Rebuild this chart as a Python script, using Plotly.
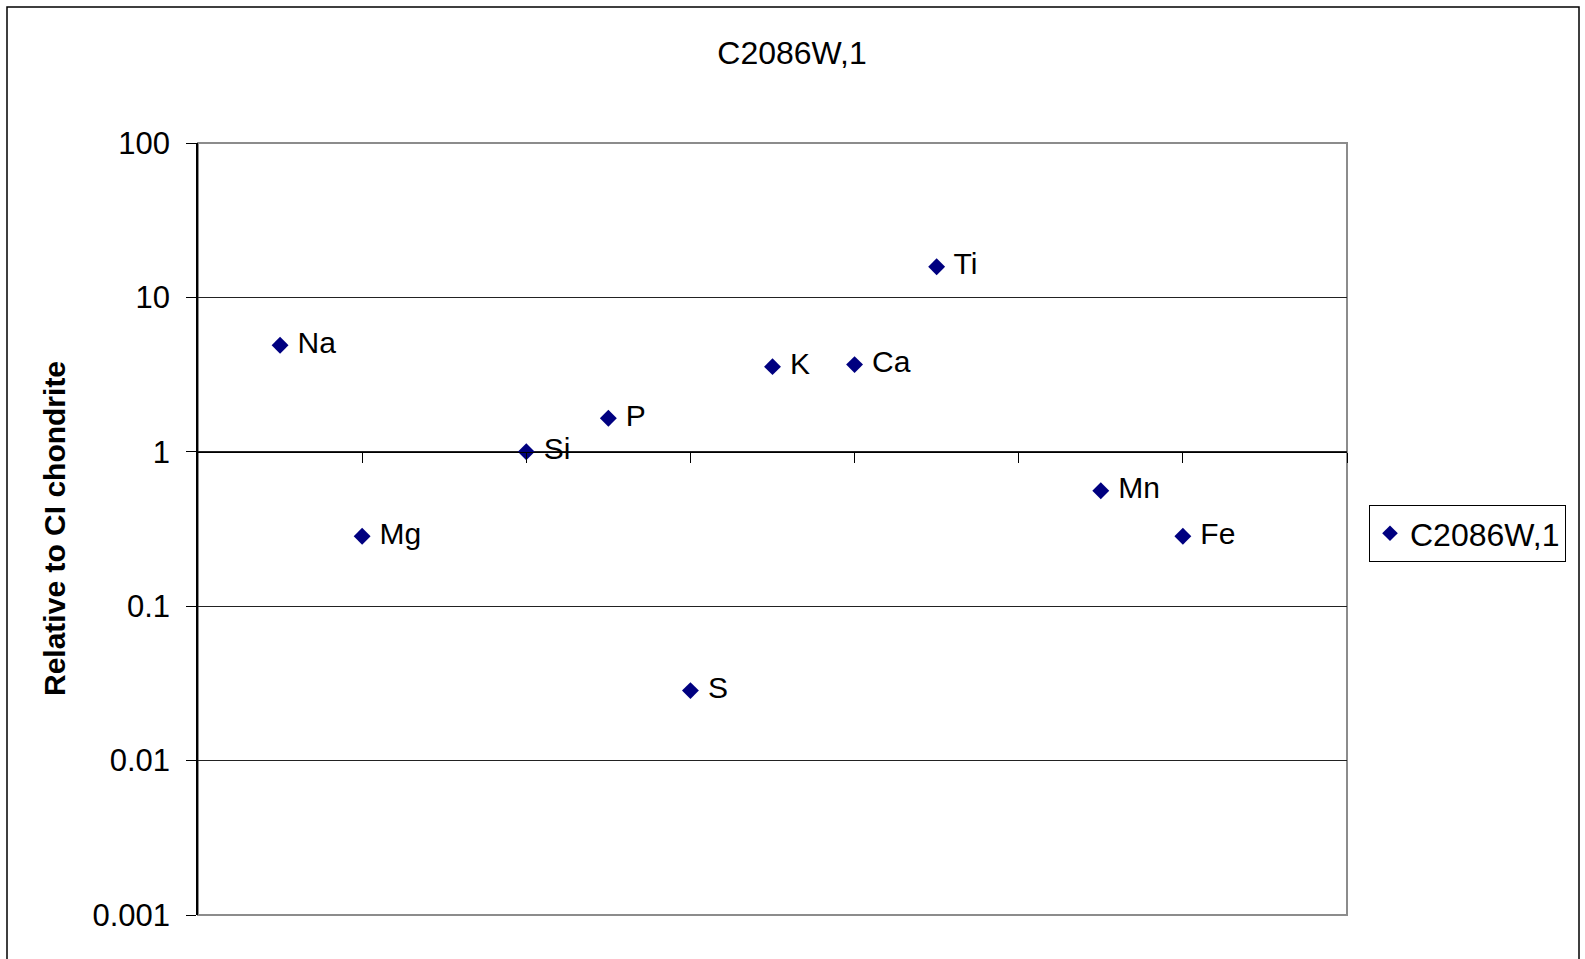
import plotly.graph_objects as go

elements = ["Na", "Mg", "Si", "P", "S", "K", "Ca", "Ti", "Mn", "Fe"]
positions = [1, 2, 4, 5, 6, 7, 8, 9, 11, 12]
values = [4.9, 0.284, 1.0, 1.65, 0.0284, 3.56, 3.67, 15.8, 0.56, 0.284]
series_name = "C2086W,1"
y_tick_vals = [0.001, 0.01, 0.1, 1, 10, 100]
y_tick_text = ["0.001", "0.01", "0.1", "1", "10", "100"]
x_tick_vals = [2, 4, 6, 8, 10, 12, 14]

FONT = "Arial, Liberation Sans, sans-serif"
W, H = 1585, 959
L, R, T, B = 198, 1347, 143, 915
pw, ph = R - L, B - T

fig = go.Figure()
fig.add_trace(go.Scatter(
    x=positions, y=values, mode="markers+text", name=series_name,
    text=[" " + e for e in elements], textposition="middle right",
    textfont=dict(family=FONT, size=30, color="black"),
    marker=dict(symbol="diamond", size=13, color="#000080"),
    cliponaxis=False,
))

fig.update_layout(
    width=W, height=H,
    margin=dict(l=L, r=W - R, t=T, b=H - B),
    paper_bgcolor="white", plot_bgcolor="white",
    font=dict(family=FONT, color="black"),
    title=dict(text=series_name, x=792 / W, xanchor="center", y=1 - 53 / H, yanchor="middle",
               font=dict(family=FONT, size=32, color="black")),
    showlegend=True,
    legend=dict(x=(1369 - L) / pw, xanchor="left", y=(B - 505) / ph, yanchor="top",
                bordercolor="black", borderwidth=1, bgcolor="white",
                font=dict(family=FONT, size=32, color="black"),
                itemsizing="constant", tracegroupgap=0),
    xaxis=dict(range=[0, 14], showgrid=False, zeroline=False,
               tickvals=x_tick_vals, showticklabels=False,
               ticks="outside", ticklen=10, tickcolor="black", tickwidth=1,
               showline=True, linecolor="black", linewidth=1,
               anchor="free", position=(0 - (-3)) / 5),
    yaxis=dict(type="log", range=[-3, 2], tickvals=y_tick_vals, ticktext=y_tick_text,
               showgrid=True, gridcolor="#222222", gridwidth=1,
               ticks="outside", ticklen=10, tickcolor="black", tickwidth=1,
               showline=True, linecolor="black", linewidth=1.5,
               ticklabelstandoff=10,
               tickfont=dict(family=FONT, size=31, color="black"), zeroline=False),
)

# plot area border (gray)
fig.add_shape(type="rect", xref="paper", yref="paper", x0=0, x1=1, y0=0, y1=1,
              line=dict(color="#8c8c8c", width=2), layer="below")
# outer chart border
fig.add_shape(type="rect", xref="paper", yref="paper",
              x0=(7 - L) / pw, x1=(1579 - L) / pw, y0=-0.2, y1=(B - 7) / ph,
              line=dict(color="black", width=1.5), layer="below")
# y axis title
fig.add_annotation(text="<b>Relative to CI chondrite</b>", xref="paper", yref="paper",
                   x=(54 - L) / pw, y=(B - 529) / ph, xanchor="center", yanchor="middle",
                   textangle=-90, showarrow=False,
                   font=dict(family=FONT, size=30, color="black"))

fig.write_html("out.html", config={"displayModeBar": False},
               post_script="document.body.style.margin='0';document.body.style.overflow='hidden';")
